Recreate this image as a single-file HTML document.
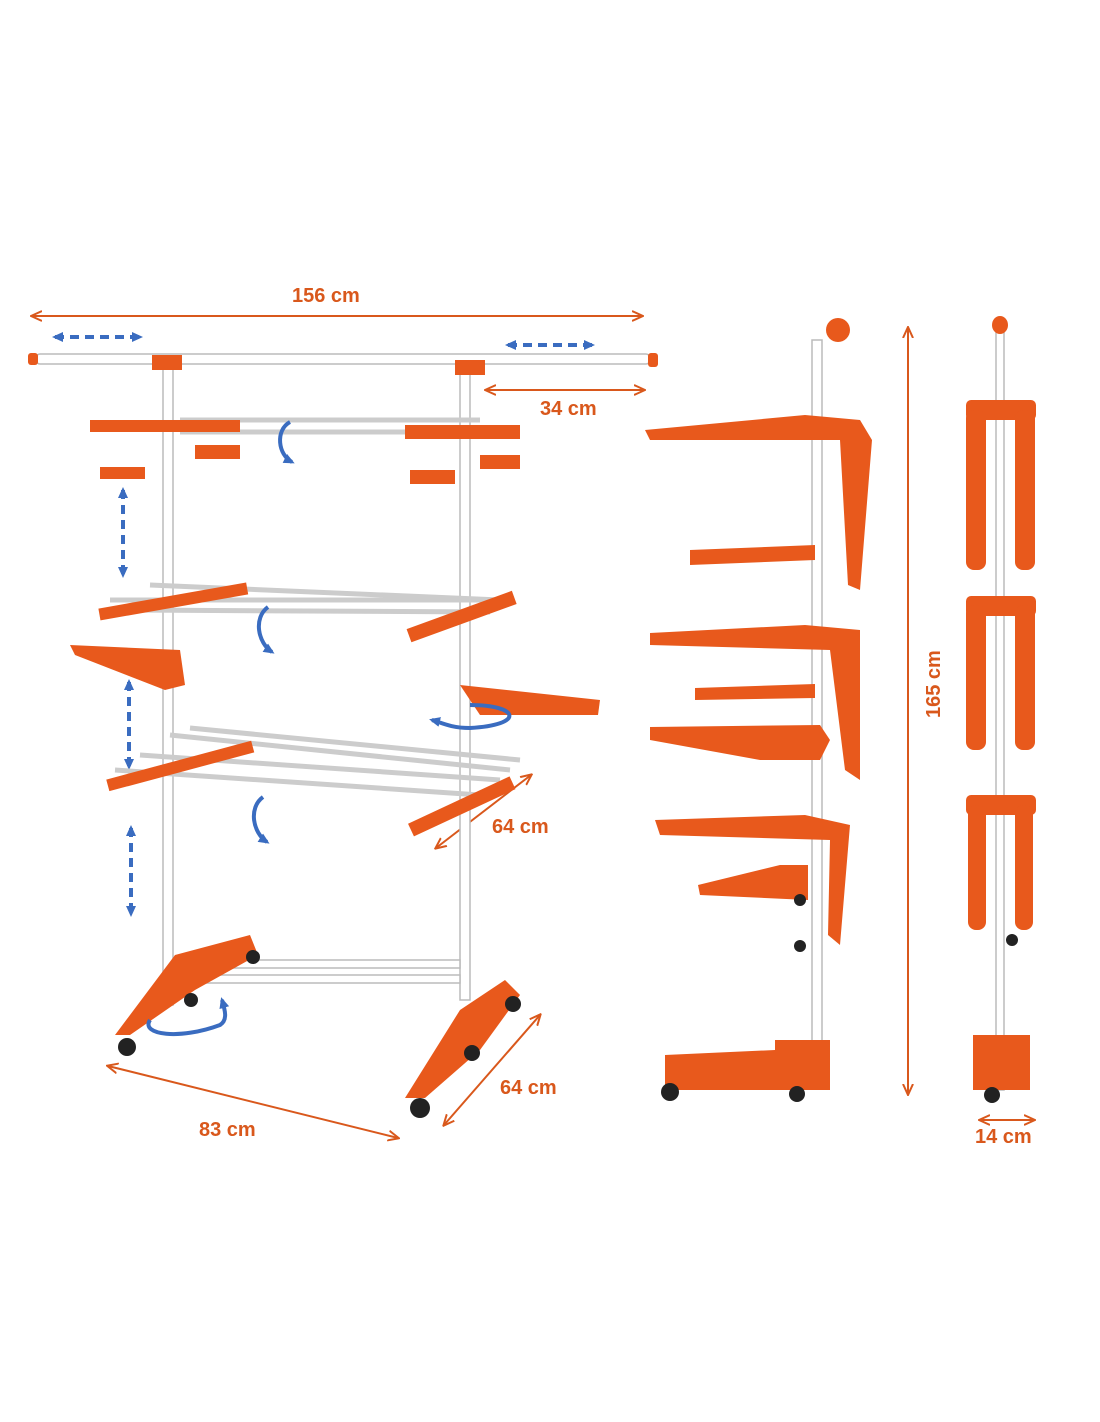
<!DOCTYPE html>
<html><head><meta charset="utf-8"><style>
html,body{margin:0;padding:0;background:#fff}
svg{display:block}
text{font-family:"Liberation Sans",sans-serif;font-weight:bold;fill:#d9581c;font-size:20px}
</style></head><body>
<svg width="1100" height="1422" viewBox="0 0 1100 1422" xmlns="http://www.w3.org/2000/svg">
<defs>
<marker id="ao" markerUnits="userSpaceOnUse" markerWidth="12" markerHeight="12" refX="10" refY="6" orient="auto-start-reverse"><path d="M0,1 L11,6 L0,11" fill="none" stroke="#d9581c" stroke-width="2"/></marker>
<marker id="ab" markerUnits="userSpaceOnUse" markerWidth="12" markerHeight="12" refX="8" refY="6" orient="auto-start-reverse"><path d="M0,1 L11,6 L0,11z" fill="#3a6cc0"/></marker>
</defs>
<g stroke="#d9581c" stroke-width="2" marker-start="url(#ao)" marker-end="url(#ao)" fill="none">
<line x1="32" y1="316" x2="642" y2="316"/>
<line x1="486" y1="390" x2="644" y2="390"/>
<line x1="436" y1="848" x2="531" y2="775"/>
<line x1="444" y1="1125" x2="540" y2="1015"/>
<line x1="108" y1="1066" x2="398" y2="1138"/>
<line x1="908" y1="328" x2="908" y2="1094"/>
<line x1="980" y1="1120" x2="1034" y2="1120"/>
</g>
<text x="292" y="302">156 cm</text>
<text x="540" y="415">34 cm</text>
<text x="492" y="833">64 cm</text>
<text x="500" y="1094">64 cm</text>
<text x="199" y="1136">83 cm</text>
<text x="975" y="1143">14 cm</text>
<text transform="translate(940,718) rotate(-90)">165 cm</text>
<g stroke="#3a6cc0" stroke-width="4" stroke-dasharray="9,6" marker-start="url(#ab)" marker-end="url(#ab)" fill="none">
<line x1="55" y1="337" x2="140" y2="337"/>
<line x1="508" y1="345" x2="592" y2="345"/>
<line x1="123" y1="490" x2="123" y2="575"/>
<line x1="129" y1="682" x2="129" y2="767"/>
<line x1="131" y1="828" x2="131" y2="914"/>
</g>
<g fill="#fff" stroke="#bbb" stroke-width="1.5">
<rect x="36" y="354" width="614" height="10" rx="4"/>
<rect x="163" y="365" width="10" height="640"/>
<rect x="460" y="370" width="10" height="630"/>
<rect x="812" y="340" width="10" height="720"/>
<rect x="996" y="330" width="8" height="760"/>
<rect x="190" y="960" width="270" height="8"/>
<rect x="190" y="975" width="270" height="8"/>
</g>
<g stroke="#ccc" stroke-width="5">
<line x1="180" y1="420" x2="480" y2="420"/><line x1="180" y1="432" x2="480" y2="432"/>
<line x1="110" y1="600" x2="510" y2="600"/><line x1="130" y1="610" x2="490" y2="612"/><line x1="150" y1="585" x2="500" y2="600"/>
<line x1="115" y1="770" x2="480" y2="795"/><line x1="140" y1="755" x2="500" y2="780"/><line x1="170" y1="735" x2="510" y2="770"/><line x1="190" y1="728" x2="520" y2="760"/>
</g>
<g fill="#e8591c">
<rect x="28" y="353" width="10" height="12" rx="3"/><rect x="648" y="353" width="10" height="14" rx="3"/>
<rect x="152" y="355" width="30" height="15"/><rect x="455" y="360" width="30" height="15"/>
<rect x="90" y="420" width="150" height="12"/><rect x="405" y="425" width="115" height="14"/>
<rect x="100" y="467" width="45" height="12"/><rect x="195" y="445" width="45" height="14"/><rect x="410" y="470" width="45" height="14"/><rect x="480" y="455" width="40" height="14"/>
<rect x="98" y="596" width="150" height="12" transform="rotate(-10 170 600)"/><rect x="405" y="610" width="112" height="14" transform="rotate(-20 460 615)"/>
<polygon points="70,645 180,650 185,685 165,690 75,655"/>
<polygon points="460,685 600,700 598,715 480,715"/>
<rect x="105" y="760" width="150" height="12" transform="rotate(-15 180 765)"/><rect x="405" y="800" width="112" height="14" transform="rotate(-25 460 805)"/>
<polygon points="115,1035 175,955 250,935 258,955 195,990 130,1035"/>
<polygon points="405,1098 460,1010 505,980 520,995 480,1050 425,1098"/>
<polygon points="645,430 805,415 860,420 872,440 860,590 848,585 840,440 805,440 650,440"/>
<polygon points="690,550 815,545 815,560 690,565"/>
<polygon points="650,633 805,625 860,630 860,780 845,770 830,650 650,645"/>
<polygon points="695,688 815,684 815,698 695,700"/>
<polygon points="650,727 820,725 830,740 820,760 760,760 650,740"/>
<polygon points="655,820 805,815 850,825 840,945 828,935 830,840 660,835"/>
<polygon points="698,885 780,865 808,865 808,900 700,895"/>
<polygon points="665,1055 775,1050 775,1040 830,1040 830,1090 665,1090"/>
<ellipse cx="838" cy="330" rx="12" ry="12"/>
<rect x="966" y="400" width="70" height="20" rx="5"/><rect x="966" y="410" width="20" height="160" rx="8"/><rect x="1015" y="410" width="20" height="160" rx="8"/>
<rect x="966" y="596" width="70" height="20" rx="5"/><rect x="966" y="605" width="20" height="145" rx="8"/><rect x="1015" y="605" width="20" height="145" rx="8"/>
<rect x="966" y="795" width="70" height="20" rx="5"/><rect x="968" y="805" width="18" height="125" rx="8"/><rect x="1015" y="805" width="18" height="125" rx="8"/>
<rect x="973" y="1035" width="57" height="55"/>
<ellipse cx="1000" cy="325" rx="8" ry="9"/>
</g>
<g fill="#222">
<circle cx="127" cy="1047" r="9"/><circle cx="191" cy="1000" r="7"/><circle cx="253" cy="957" r="7"/>
<circle cx="420" cy="1108" r="10"/><circle cx="472" cy="1053" r="8"/><circle cx="513" cy="1004" r="8"/>
<circle cx="670" cy="1092" r="9"/><circle cx="797" cy="1094" r="8"/><circle cx="800" cy="946" r="6"/><circle cx="800" cy="900" r="6"/>
<circle cx="992" cy="1095" r="8"/><circle cx="1012" cy="940" r="6"/>
</g>
<g fill="none" stroke="#3a6cc0" stroke-width="4" marker-end="url(#ab)">
<path d="M290,422 C275,430 278,455 292,462"/>
<path d="M268,607 C253,618 258,643 272,652"/>
<path d="M263,797 C248,808 253,833 267,842"/>
<path d="M470,705 C520,705 525,725 470,728 C450,728 440,722 432,720"/>
<path d="M150,1020 C140,1035 180,1040 220,1025 C228,1020 225,1010 222,1000"/>
</g>
</svg>
</body></html>
